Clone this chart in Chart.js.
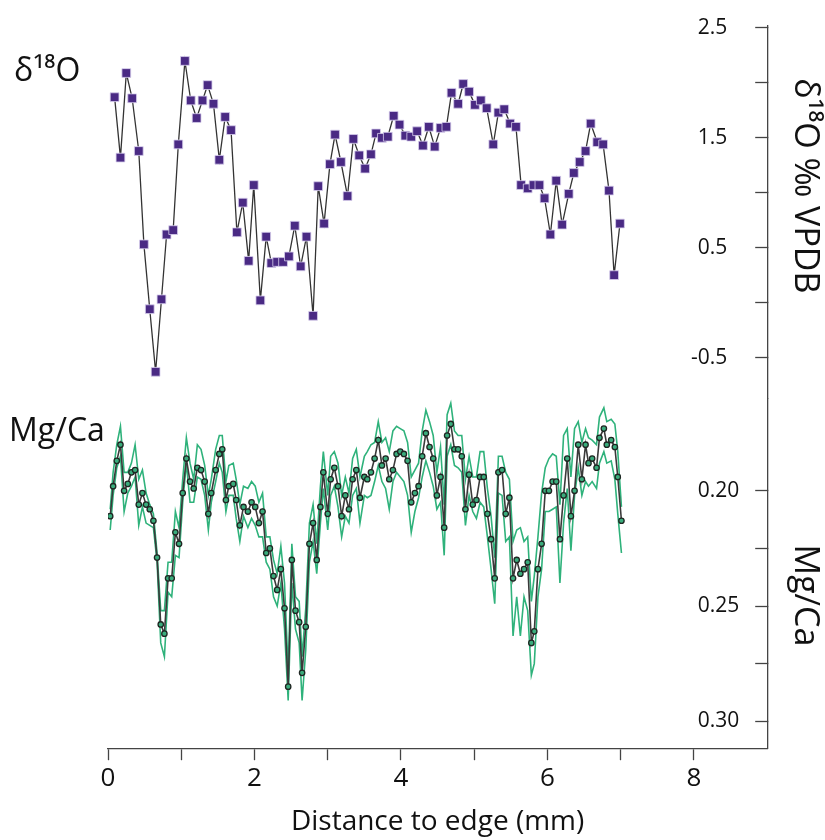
<!DOCTYPE html>
<html lang="en">
<head>
  <meta charset="UTF-8">
  <title>d18O and Mg/Ca vs distance to edge</title>
  <style>
    html, body { margin: 0; padding: 0; background: #fff; }
    .chart-container { width: 825px; height: 840px; position: relative; }
  </style>
</head>
<body>
  <div class="chart-container">
    <canvas id="profileChart" width="825" height="840"></canvas>
  </div>

  <script src="https://cdn.jsdelivr.net/npm/chart.js"></script>
  <script>
    // d18O profile (per mil VPDB)
    const d18oDist = [0.09,0.17,0.25,0.33,0.42,0.49,0.57,0.65,0.73,0.80,
      0.89,0.96,1.05,1.13,1.21,1.29,1.36,1.44,1.52,1.60,
      1.68,1.76,1.84,1.92,1.99,2.08,2.16,2.23,2.31,2.39,
      2.47,2.55,2.63,2.71,2.80,2.87,2.95,3.03,3.10,3.18,
      3.27,3.35,3.43,3.51,3.59,3.66,3.74,3.82,3.90,3.98,
      4.06,4.14,4.22,4.30,4.38,4.46,4.54,4.62,4.69,4.78,
      4.85,4.93,5.01,5.09,5.17,5.26,5.33,5.41,5.49,5.57,
      5.64,5.73,5.81,5.89,5.96,6.04,6.12,6.20,6.29,6.36,
      6.44,6.52,6.59,6.68,6.76,6.84,6.91,6.99];
    const d18oValues = [1.87,1.32,2.09,1.86,1.38,0.53,-0.06,-0.63,0.03,0.62,
      0.66,1.44,2.20,1.84,1.68,1.84,1.98,1.81,1.30,1.69,
      1.57,0.64,0.91,0.38,1.07,0.02,0.60,0.36,0.37,0.37,
      0.42,0.70,0.33,0.60,-0.12,1.06,0.72,1.26,1.53,1.28,
      0.97,1.49,1.34,1.22,1.35,1.54,1.50,1.51,1.70,1.62,
      1.52,1.51,1.56,1.43,1.60,1.42,1.59,1.60,1.91,1.81,
      1.99,1.92,1.80,1.84,1.77,1.44,1.73,1.76,1.63,1.60,
      1.07,1.04,1.07,1.07,0.95,0.62,1.11,0.71,0.99,1.18,
      1.28,1.38,1.63,1.46,1.44,1.02,0.25,0.72];

    // Mg/Ca profile: mean and the two envelope curves
    const mgDist = [0.03,0.07,0.12,0.17,0.22,0.27,0.32,0.37,0.42,0.47,
      0.52,0.57,0.62,0.67,0.72,0.77,0.82,0.87,0.92,0.97,
      1.02,1.07,1.12,1.17,1.22,1.27,1.32,1.37,1.41,1.47,
      1.52,1.56,1.61,1.65,1.71,1.75,1.80,1.85,1.91,1.96,
      2.01,2.06,2.11,2.16,2.21,2.26,2.31,2.36,2.41,2.46,
      2.51,2.56,2.61,2.65,2.70,2.75,2.80,2.85,2.90,2.94,
      3.00,3.04,3.09,3.14,3.19,3.24,3.29,3.34,3.39,3.44,
      3.50,3.54,3.59,3.64,3.69,3.74,3.79,3.84,3.89,3.94,
      3.99,4.04,4.09,4.14,4.19,4.24,4.29,4.34,4.39,4.44,
      4.49,4.54,4.59,4.63,4.68,4.73,4.78,4.83,4.88,4.93,
      4.98,5.03,5.08,5.13,5.18,5.23,5.28,5.33,5.38,5.43,
      5.48,5.53,5.58,5.63,5.68,5.73,5.78,5.82,5.87,5.92,
      5.97,6.02,6.07,6.12,6.17,6.22,6.27,6.32,6.37,6.42,
      6.47,6.52,6.56,6.61,6.67,6.71,6.77,6.81,6.87,6.92,
      6.96,7.01];
    const mgMean = [0.211,0.198,0.187,0.180,0.200,0.197,0.192,0.191,0.206,0.201,
      0.206,0.208,0.213,0.229,0.258,0.262,0.238,0.238,0.218,0.223,
      0.201,0.186,0.196,0.199,0.190,0.191,0.196,0.210,0.201,0.191,
      0.184,0.182,0.204,0.198,0.197,0.204,0.215,0.207,0.209,0.205,
      0.207,0.214,0.209,0.227,0.225,0.237,0.243,0.234,0.251,0.285,
      0.230,0.252,0.257,0.279,0.259,0.223,0.214,0.230,0.207,0.192,
      0.210,0.195,0.190,0.198,0.211,0.202,0.208,0.195,0.191,0.203,
      0.194,0.195,0.192,0.186,0.178,0.189,0.186,0.195,0.191,0.184,
      0.183,0.184,0.187,0.205,0.201,0.198,0.185,0.175,0.181,0.186,
      0.202,0.194,0.216,0.176,0.171,0.182,0.182,0.185,0.208,0.193,
      0.206,0.204,0.194,0.194,0.210,0.221,0.238,0.192,0.191,0.210,
      0.203,0.238,0.230,0.236,0.234,0.231,0.266,0.261,0.234,0.223,
      0.200,0.200,0.196,0.196,0.221,0.202,0.186,0.211,0.200,0.180,
      0.195,0.180,0.188,0.186,0.190,0.177,0.173,0.180,0.178,0.181,
      0.194,0.213];
    const mgUpper = [0.208,0.192,0.180,0.172,0.192,0.192,0.188,0.180,0.195,0.191,
      0.201,0.206,0.210,0.227,0.252,0.252,0.231,0.231,0.209,0.216,
      0.195,0.177,0.188,0.195,0.180,0.182,0.189,0.202,0.195,0.182,
      0.176,0.176,0.196,0.189,0.188,0.195,0.206,0.198,0.199,0.196,
      0.198,0.205,0.201,0.220,0.220,0.230,0.236,0.224,0.240,0.278,
      0.223,0.246,0.248,0.272,0.251,0.214,0.206,0.223,0.198,0.183,
      0.202,0.185,0.183,0.188,0.202,0.194,0.201,0.186,0.182,0.194,
      0.185,0.183,0.180,0.179,0.170,0.179,0.177,0.183,0.174,0.172,
      0.173,0.174,0.179,0.194,0.191,0.188,0.174,0.165,0.170,0.176,
      0.192,0.181,0.206,0.167,0.162,0.174,0.176,0.176,0.195,0.185,
      0.194,0.194,0.183,0.183,0.199,0.211,0.229,0.185,0.185,0.192,
      0.195,0.222,0.217,0.216,0.222,0.220,0.248,0.237,0.220,0.201,
      0.190,0.186,0.184,0.185,0.206,0.176,0.173,0.194,0.173,0.170,
      0.179,0.173,0.177,0.178,0.180,0.168,0.164,0.170,0.169,0.171,
      0.183,0.207];
    const mgLower = [0.217,0.202,0.190,0.185,0.209,0.201,0.198,0.194,0.215,0.207,
      0.214,0.215,0.216,0.231,0.266,0.272,0.244,0.246,0.228,0.229,
      0.205,0.188,0.205,0.205,0.194,0.195,0.202,0.217,0.205,0.196,
      0.188,0.192,0.209,0.202,0.202,0.212,0.222,0.211,0.216,0.212,
      0.215,0.220,0.220,0.231,0.234,0.246,0.250,0.240,0.260,0.291,
      0.240,0.260,0.266,0.291,0.269,0.231,0.222,0.236,0.214,0.199,
      0.217,0.202,0.198,0.207,0.220,0.211,0.214,0.202,0.199,0.214,
      0.202,0.203,0.202,0.196,0.189,0.196,0.199,0.208,0.196,0.192,
      0.194,0.196,0.202,0.218,0.209,0.203,0.194,0.187,0.192,0.198,
      0.208,0.205,0.228,0.185,0.180,0.189,0.190,0.192,0.215,0.202,
      0.209,0.212,0.205,0.207,0.220,0.234,0.249,0.201,0.202,0.222,
      0.220,0.263,0.246,0.263,0.246,0.252,0.280,0.275,0.246,0.234,
      0.209,0.209,0.208,0.207,0.240,0.214,0.199,0.226,0.202,0.190,
      0.202,0.196,0.198,0.196,0.199,0.188,0.183,0.188,0.187,0.195,
      0.210,0.227];

    // axis ticks
    const distTicks = [0, 1, 2, 3, 4, 5, 6, 7, 8];
    const d18oTicks = [-0.5, 0, 0.5, 1, 1.5, 2, 2.5];
    const mgTicks = [0.2, 0.225, 0.25, 0.275, 0.3];

    const FONT = "'Open Sans', 'DejaVu Sans', sans-serif";
    const AXIS = '#444';

    function pairs(xs, ys) {
      return xs.map((x, i) => ({ x: x, y: ys[i] }));
    }

    // side labels at the left of each panel
    const sideLabels = {
      id: 'sideLabels',
      afterDraw(chart) {
        const ctx = chart.ctx;
        ctx.save();
        ctx.fillStyle = '#111';
        ctx.font = '32px ' + FONT;
        ctx.textAlign = 'left';
        ctx.textBaseline = 'middle';
        ctx.fillText('δ¹⁸O', 14, 72);
        ctx.fillText('Mg/Ca', 9, 432);
        ctx.restore();
      }
    };

    const ctx = document.getElementById('profileChart').getContext('2d');
    const chart = new Chart(ctx, {
      type: 'scatter',
      data: {
        datasets: [
          {
            label: 'δ18O',
            data: pairs(d18oDist, d18oValues),
            yAxisID: 'yO',
            showLine: true,
            borderColor: '#333',
            borderWidth: 1.3,
            pointStyle: 'rect',
            pointRadius: 6.2,
            pointBackgroundColor: '#4a2a84',
            pointBorderColor: '#d8cfee',
            pointBorderWidth: 0.8,
            order: 0
          },
          {
            label: 'Mg/Ca',
            data: pairs(mgDist, mgMean),
            yAxisID: 'yM',
            showLine: true,
            borderColor: '#3a3a3a',
            borderWidth: 1.6,
            pointRadius: 2.7,
            pointBackgroundColor: '#3aac7c',
            pointBorderColor: '#1f2622',
            pointBorderWidth: 1.3,
            order: 1
          },
          {
            label: 'Mg/Ca upper',
            data: pairs(mgDist, mgUpper),
            yAxisID: 'yM',
            showLine: true,
            borderColor: '#2fb27b',
            borderWidth: 1.6,
            pointRadius: 0,
            order: 2
          },
          {
            label: 'Mg/Ca lower',
            data: pairs(mgDist, mgLower),
            yAxisID: 'yM',
            showLine: true,
            borderColor: '#2fb27b',
            borderWidth: 1.6,
            pointRadius: 0,
            order: 3
          }
        ]
      },
      options: {
        responsive: false,
        animation: false,
        layout: { padding: { left: 108, right: 0, top: 26, bottom: 1 } },
        plugins: {
          legend: { display: false },
          tooltip: { enabled: false }
        },
        scales: {
          x: {
            type: 'linear',
            position: 'bottom',
            min: 0,
            max: 9,
            afterBuildTicks: s => { s.ticks = distTicks.map(v => ({ value: v })); },
            ticks: {
              autoSkip: false,
              maxRotation: 0,
              padding: 3,
              color: '#111',
              font: { family: FONT, size: 26 },
              callback: v => (v % 2 === 0 ? String(v) : '')
            },
            grid: { drawOnChartArea: false, tickLength: 12, color: AXIS, tickWidth: 1.3 },
            border: { color: AXIS, width: 1.3 },
            title: {
              display: true,
              text: 'Distance to edge (mm)',
              color: '#111',
              font: { family: FONT, size: 28 },
              padding: { top: 8, bottom: 0 }
            }
          },
          yO: {
            type: 'linear',
            position: 'right',
            stack: 'right',
            stackWeight: 372,
            min: -0.874,
            max: 2.518,
            afterBuildTicks: s => { s.ticks = d18oTicks.map(v => ({ value: v })); },
            ticks: {
              mirror: true,
              padding: -40,
              color: '#111',
              font: { family: FONT, size: 21 },
              callback: v => ([-0.5, 0.5, 1.5, 2.5].includes(v) ? v.toFixed(1) : '')
            },
            grid: { drawOnChartArea: false, tickLength: -12, color: AXIS, tickWidth: 1.3 },
            border: { color: AXIS, width: 1.3 },
            title: {
              display: true,
              text: 'δ¹⁸O ‰ VPDB      ',
              color: '#111',
              font: { family: FONT, size: 34 },
              padding: { top: 0, bottom: 85 }
            }
          },
          yM: {
            type: 'linear',
            position: 'right',
            stack: 'right',
            stackWeight: 349,
            reverse: true,
            min: 0.16,
            max: 0.3117,
            afterBuildTicks: s => { s.ticks = mgTicks.map(v => ({ value: v })); },
            ticks: {
              mirror: true,
              padding: -28,
              color: '#111',
              font: { family: FONT, size: 21 },
              callback: v => ([0.2, 0.25, 0.3].includes(v) ? v.toFixed(2) : '')
            },
            grid: { drawOnChartArea: false, tickLength: -12, color: AXIS, tickWidth: 1.3 },
            border: { color: AXIS, width: 1.3 },
            title: {
              display: true,
              text: '     Mg/Ca',
              color: '#111',
              font: { family: FONT, size: 34 },
              padding: { top: 0, bottom: 85 }
            }
          }
        }
      },
      plugins: [sideLabels]
    });
  </script>
</body>
</html>
